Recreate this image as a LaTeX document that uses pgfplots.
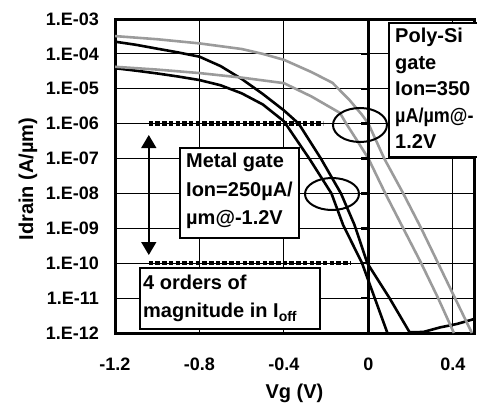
\documentclass[border=0pt]{standalone}
\usepackage{fontspec}
\setmainfont{Liberation Sans}
\usepackage{pgfplots}
\pgfplotsset{compat=1.18}
\usetikzlibrary{arrows.meta}
\definecolor{cgray}{RGB}{155,155,155}
\begin{document}
\begin{tikzpicture}
\begin{axis}[
  at={(115pt,71pt)}, anchor=south west,
  scale only axis, width=359pt, height=314pt,
  xmin=-1.2, xmax=0.5, ymode=log, ymin=1e-12, ymax=1e-3,
  xtick={-1.2,-0.8,-0.4,0,0.4}, xticklabels={-1.2,-0.8,-0.4,0,0.4},
  ytick={1e-12,1e-11,1e-10,1e-9,1e-8,1e-7,1e-6,1e-5,1e-4,1e-3},
  yticklabels={1.E-12,1.E-11,1.E-10,1.E-09,1.E-08,1.E-07,1.E-06,1.E-05,1.E-04,1.E-03},
  grid=major, major grid style={black, line width=0.9pt},
  axis line style={line width=3pt},
  major tick length=0pt, minor tick length=0pt, minor y tick num=0,
  tick style={draw=none},
  ticklabel style={font=\fontsize{18}{18}\selectfont\bfseries},
  yticklabel style={anchor=east, inner sep=0pt, xshift=-16pt},
  xticklabel style={anchor=north, inner sep=0pt, yshift=-25pt},
  xlabel={Vg (V)}, ylabel={Idrain (A/µm)},
  label style={font=\fontsize{20}{20}\selectfont\bfseries},
  xlabel style={at={(axis description cs:0.5,-0.207)}, anchor=base, inner sep=0pt},
  ylabel style={at={(axis description cs:-0.2284,0.49)}, anchor=base, inner sep=0pt},
  clip mode=individual,
]
% Metal gate, high Vd
\addplot[black, line width=2.6pt] coordinates {
(-1.2,2.24e-4) (-1.1,1.82e-4) (-1.0,1.41e-4) (-0.9,1.10e-4) (-0.8,8.32e-5)
(-0.7,4.47e-5) (-0.6,1.91e-5) (-0.5,7.08e-6) (-0.4,2.40e-6) (-0.33,1.0e-6)
(-0.225,1.0e-7) (-0.13,1.0e-8) (-0.066,1.26e-9) (-0.005,1.0e-10) (0.10,1.0e-11)
(0.195,1.05e-12) (0.26,1.07e-12) (0.34,1.45e-12) (0.42,1.82e-12) (0.5,2.51e-12)};
% Metal gate, low Vd
\addplot[black, line width=2.6pt] coordinates {
(-1.2,3.89e-5) (-1.1,3.3e-5) (-1.0,2.75e-5) (-0.9,2.24e-5) (-0.8,1.78e-5)
(-0.7,1.26e-5) (-0.6,7.41e-6) (-0.5,3.55e-6) (-0.4,1.17e-6) (-0.28,1.0e-7)
(-0.175,1.0e-8) (-0.12,1.26e-9) (-0.03,1.0e-10) (0.03,1.0e-11) (0.09,1.0e-12)};
% Poly-Si, high Vd
\addplot[cgray, line width=2.6pt] coordinates {
(-1.2,3.24e-4) (-1.0,2.63e-4) (-0.8,2.0e-4) (-0.6,1.38e-4) (-0.5,1.0e-4) (-0.4,6.76e-5)
(-0.27,3.02e-5) (-0.17,1.48e-5) (-0.09,4.79e-6) (-0.03,1.78e-6) (0.0,1.0e-6)
(0.075,1.0e-7) (0.165,1.0e-8) (0.25,1.0e-9) (0.33,1.0e-10) (0.41,1.0e-11) (0.49,1.0e-12)};
% Poly-Si, low Vd
\addplot[cgray, line width=2.6pt] coordinates {
(-1.2,4.27e-5) (-1.0,3.55e-5) (-0.8,2.82e-5) (-0.6,2.09e-5) (-0.4,1.45e-5)
(-0.27,6.03e-6) (-0.135,2.04e-6) (-0.105,1.0e-6) (-0.055,3.39e-7) (0.0,1.0e-7)
(0.08,1.0e-8) (0.165,1.0e-9) (0.25,1.0e-10) (0.33,1.0e-11) (0.405,1.0e-12)};
% zero line with ticks
\addplot[black, line width=3pt] coordinates {(0,1e-12) (0,1e-3)};
\draw[black, line width=2.5pt] (axis cs:0,1e-4) -- (axis cs:-0.035,1e-4);
\draw[black, line width=2.5pt] (axis cs:0,1e-5) -- (axis cs:-0.035,1e-5);
\draw[black, line width=2.5pt] (axis cs:0,1e-6) -- (axis cs:-0.035,1e-6);
\draw[black, line width=2.5pt] (axis cs:0,1e-7) -- (axis cs:-0.035,1e-7);
\draw[black, line width=2.5pt] (axis cs:0,1e-8) -- (axis cs:-0.035,1e-8);
\draw[black, line width=2.5pt] (axis cs:0,1e-9) -- (axis cs:-0.035,1e-9);
\draw[black, line width=2.5pt] (axis cs:0,1e-10) -- (axis cs:-0.035,1e-10);
\draw[black, line width=2.5pt] (axis cs:0,1e-11) -- (axis cs:-0.035,1e-11);
% dotted levels
\draw[black, line width=4.5pt, dash pattern=on 4.5pt off 2.2pt] (axis cs:-1.04,1e-6) -- (axis cs:-0.215,1e-6);
\draw[black, line width=4.5pt, dash pattern=on 4.5pt off 2.2pt] (axis cs:-1.04,1e-10) -- (axis cs:-0.087,1e-10);
% double arrow
\draw[black, line width=1.5pt, {Triangle[width=15pt,length=13pt]}-{Triangle[width=15pt,length=13pt]}]
  (axis cs:-1.04,4.73e-7) -- (axis cs:-1.04,1.72e-10);
% ellipses
\draw[black, line width=2pt] (axis cs:-0.040,9.16e-7) ellipse [x radius=27pt, y radius=17pt];
\draw[black, line width=2pt] (axis cs:-0.1724,9.64e-9) ellipse [x radius=27pt, y radius=16pt];
% boxes
\draw[black, line width=1.7pt, fill=white] (rel axis cs:0.181,0.589) rectangle (rel axis cs:0.513,0.3025);
\draw[black, line width=1.7pt, fill=white] (rel axis cs:0.0696,0.207) rectangle (rel axis cs:0.571,0.0127);
\draw[black, line width=1.7pt, fill=white] (rel axis cs:0.7632,0.987) rectangle (rel axis cs:1.06,0.5605);
\begin{scope}[every node/.style={anchor=base west, inner sep=0pt, font=\fontsize{20}{20}\selectfont\bfseries}]
\node at (rel axis cs:0.1978,0.5255) {Metal gate};
\node at (rel axis cs:0.1978,0.4363) {Ion=250µA/};
\node at (rel axis cs:0.1978,0.3471) {µm@-1.2V};
\node at (rel axis cs:0.078,0.1385) {4 orders of};
\node at (rel axis cs:0.078,0.0478) {magnitude in I\textsubscript{off}};
\node at (rel axis cs:0.78,0.9236) {Poly-Si};
\node at (rel axis cs:0.78,0.8392) {gate};
\node at (rel axis cs:0.78,0.7548) {Ion=350};
\node at (rel axis cs:0.78,0.6704) {\scalebox{0.9}[1]{µA/µm@-}};
\node at (rel axis cs:0.78,0.5860) {1.2V};
\end{scope}
\end{axis}
\pgfresetboundingbox
\path[use as bounding box] (0,0) rectangle (477pt,404pt);
\end{tikzpicture}
\end{document}
